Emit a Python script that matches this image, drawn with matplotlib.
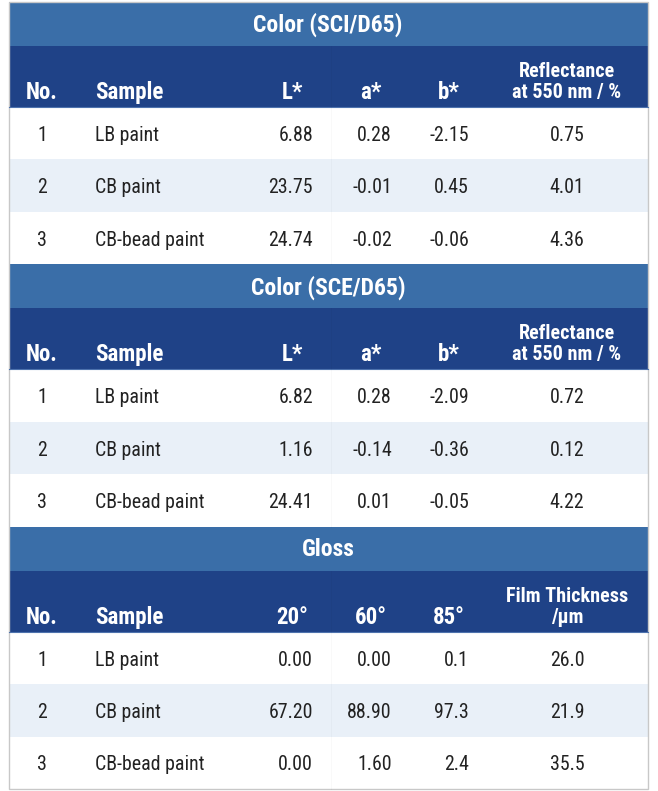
import matplotlib
matplotlib.use("Agg")
import matplotlib.pyplot as plt
from matplotlib import font_manager
from matplotlib.patches import Rectangle

# pick a condensed font if one is around, else Roboto
names = sorted(set(f.name for f in font_manager.fontManager.ttflist))
FONT = "Roboto" if "Roboto" in names else "DejaVu Sans"
for cand in ["Roboto Condensed", "Liberation Sans Narrow", "DejaVu Sans Condensed"]:
    if cand in names:
        FONT = cand
        break

plt.rcParams['font.family'] = [FONT, 'DejaVu Sans']

numbers = ["1", "2", "3"]
samples = ["LB paint", "CB paint", "CB-bead paint"]

sci_L = ["6.88", "23.75", "24.74"]
sci_a = ["0.28", "-0.01", "-0.02"]
sci_b = ["-2.15", "0.45", "-0.06"]
sci_R = ["0.75", "4.01", "4.36"]

sce_L = ["6.82", "1.16", "24.41"]
sce_a = ["0.28", "-0.14", "0.01"]
sce_b = ["-2.09", "-0.36", "-0.05"]
sce_R = ["0.72", "0.12", "4.22"]

gloss_20 = ["0.00", "67.20", "0.00"]
gloss_60 = ["0.00", "88.90", "1.60"]
gloss_85 = ["0.1", "97.3", "2.4"]
film = ["26.0", "21.9", "35.5"]

titles = ["Color (SCI/D65)", "Color (SCE/D65)", "Gloss"]
color_heads = ["L*", "a*", "b*", "Reflectance\nat 550 nm / %"]
gloss_heads = ["20°", "60°", "85°", "Film Thickness\n/µm"]

sections = [
    (titles[0], color_heads, [sci_L, sci_a, sci_b, sci_R]),
    (titles[1], color_heads, [sce_L, sce_a, sce_b, sce_R]),
    (titles[2], gloss_heads, [gloss_20, gloss_60, gloss_85, film]),
]

W, H = 658, 791
fig = plt.figure(figsize=(W / 100, H / 100), dpi=100)
ax = fig.add_axes([0, 0, 1, 1])
ax.set_xlim(0, W)
ax.set_ylim(H, 0)
ax.axis("off")

TITLE_BG = "#3a6ea8"
HEAD_BG = "#1f4287"
ALT_BG = "#e9f0f8"
TXT = "#222222"

x0, x1 = 8.5, 647.5
top0, sec_h = 2, 262.4
title_h, head_h = 44, 61
row_h = (sec_h - title_h - head_h) / 3

# column anchors
x_no = 42
x_sample = 95
num_right = [313, 392, 469]
num_head = [292, 371, 449]
x_last = 567

for k, (title, heads, cols) in enumerate(sections):
    top = top0 + k * sec_h
    ax.add_patch(Rectangle((x0, top), x1 - x0, title_h, color=TITLE_BG, lw=0))
    ax.text((x0 + x1) / 2, top + title_h / 2 + 1, title, ha="center", va="center",
            color="white", fontsize=17, fontweight="bold")
    ht = top + title_h
    ax.add_patch(Rectangle((x0, ht), x1 - x0, head_h, color=HEAD_BG, lw=0))
    hb = ht + head_h - 8
    ax.text(x_no, hb, "No.", ha="center", va="baseline", color="white", fontsize=16.5, fontweight="bold")
    ax.text(x_sample, hb, "Sample", ha="left", va="baseline", color="white", fontsize=16.5, fontweight="bold")
    for xh, h in zip(num_head, heads[:3]):
        ax.text(xh, hb, h, ha="center", va="baseline", color="white", fontsize=16.5, fontweight="bold")
    l1, l2 = heads[3].split("\n")
    ax.text(x_last, hb - 1, l2, ha="center", va="baseline", color="white", fontsize=14.5, fontweight="bold")
    ax.text(x_last, hb - 22, l1, ha="center", va="baseline", color="white", fontsize=14.5, fontweight="bold")
    rt = ht + head_h
    for i in range(3):
        y = rt + i * row_h
        ax.add_patch(Rectangle((x0, y), x1 - x0, row_h, color=ALT_BG if i == 1 else "white", lw=0))
        yc = y + row_h / 2 + 2
        ax.text(x_no, yc, numbers[i], ha="center", va="center", color=TXT, fontsize=14.3)
        ax.text(x_sample, yc, samples[i], ha="left", va="center", color=TXT, fontsize=14.3)
        for xr, col in zip(num_right, cols[:3]):
            ax.text(xr, yc, col[i], ha="right", va="center", color=TXT, fontsize=14.3)
        ax.text(x_last, yc, cols[3][i], ha="center", va="center", color=TXT, fontsize=14.3)
    ax.plot([x0, x1], [rt, rt], color="#4d72ad", lw=0.8)
    ax.plot([331, 331], [ht, rt + 3 * row_h], color="#000000", alpha=0.025, lw=0.8)

ax.add_patch(Rectangle((x0, 2), x1 - x0, 3 * sec_h, fill=False, ec="#c8c8c8", lw=1))

fig.savefig("out.png", dpi=100)
